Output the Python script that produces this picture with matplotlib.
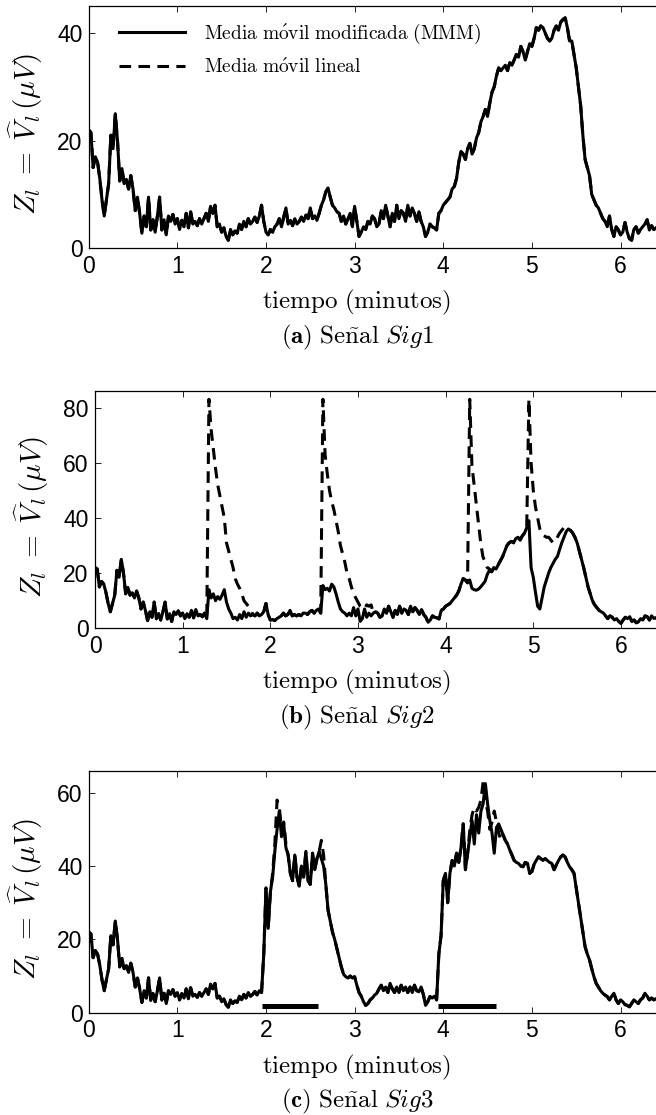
import numpy as np
import matplotlib.pyplot as plt

plt.rcParams['mathtext.fontset'] = 'cm'
plt.rcParams['font.family'] = 'Liberation Sans'

DT = 0.025  # minutos entre muestras

# --- senal base (Sig1), tramos reutilizados en las otras senales ---
base_inicio = [  # 0.000 - 1.175 min
    22, 21.5, 15, 17, 16, 13, 9, 6, 9, 12, 21, 18.5, 25, 20, 12.5, 14.8,
    12, 12.8, 11, 13.5, 11, 7, 9.5, 6.5, 2.8, 6, 4, 9.5, 3.4, 5.3, 3, 6,
    9.5, 3.4, 5.3, 2.5, 6, 5, 6.3, 4.5, 5.5, 3.5, 5.2, 4, 6.5, 3.8, 6.8, 4.5,
]
sig1_tramo_a = [5, 4.2, 5.5, 4.5, 5.5, 6.5, 5, 7.8, 6.5, 8, 4, 4.5, 3, 3.8, 2.2, 1.5]  # 1.2 - 1.575
sig1_tramo_b = [3.5, 2.5, 3.2, 2.8, 4.5, 3.5, 5, 4, 5.5, 4.5, 5, 5.8, 4.8, 6, 8, 5]  # 1.6 - 1.975
sig1_tramo_c = [  # 2.0 - 3.175
    3, 2.5, 3.5, 3, 4, 4.5, 5.5, 4, 5.8, 7.5, 4.5, 5.2, 4.2, 5.5, 4.5, 5,
    5.8, 5, 6.2, 5.5, 7.5, 5.5, 6, 5.2, 6.5, 8, 9, 10.5, 11.2, 9.5, 8, 7.5,
    6.8, 6.5, 5, 6, 4.5, 5.5, 6.5, 4, 7.8, 5, 2.2, 3, 4, 3.5, 5, 4.5,
]
calma_media = [  # 3.2 - 3.975
    6, 5.5, 4, 4.5, 7, 5.5, 8, 6, 4, 6.5, 5, 8, 5.5, 7, 6.5, 5,
    8, 6, 7.5, 6.5, 5, 6.8, 5, 4, 2.2, 3, 4.5, 4, 3.8, 3.4, 6.5, 7,
]
sig1_final = [  # 4.0 - 6.4
    8, 8.5, 9, 9.5, 11, 11.5, 13, 16, 18, 17.5, 16.5, 18.5, 19.5, 17.5, 18.5, 20.5,
    21.5, 23.5, 24.5, 25.8, 24.5, 27, 29, 30, 32, 33.5, 33, 33.5, 34, 33, 34.5, 34,
    35, 36, 35.5, 37.5, 36.5, 35, 36.5, 38, 37.5, 39, 41, 40.5, 41.3, 41, 40, 39,
    38.5, 39, 40.5, 41.3, 40.5, 42, 42.5, 42.8, 41, 38.5, 38.5, 36, 33.5, 30, 26.5, 21,
    16.5, 15, 13.5, 10, 9, 8, 7.5, 6.5, 5.5, 5, 4, 6, 3.5, 2.2, 4, 3.4,
    2.5, 3, 4.8, 3, 1.8, 1.5, 3.5, 4, 2.8, 3.5, 4, 4.5, 5.3, 3.4, 4.2, 3.5, 3.8,
]

# --- Sig2 ---
sig2_tramo = [  # 1.2 - 3.175
    5, 4.2, 5.5, 3.5, 14, 11, 12.5, 10, 11.5, 10.5, 12, 14, 9.5, 7, 5.5, 3.5,
    4, 3, 5, 3.5, 6, 4, 5.5, 4.5, 5, 4.5, 5.5, 4.5, 5, 6, 9, 5,
    3, 3.2, 2.8, 3.5, 4, 4.5, 5.5, 4.5, 5, 6.5, 4.5, 5, 4.5, 5, 4.5, 5.5,
    5.5, 5, 6, 6.5, 5.5, 6.5, 7, 5.5, 15.5, 14, 14.5, 13.5, 16, 15, 12.5, 9.5,
    7, 6, 5.5, 4.5, 5.5, 4.5, 7.5, 4.5, 7, 2.5, 3.5, 7, 4, 5.5, 4.5, 5.5,
]
sig2_final = [  # 4.0 - 6.4
    8, 8.5, 9, 10, 11, 12, 13.5, 16, 18, 17.5, 16.5, 17.5, 14.5, 14, 13.8, 14.2,
    15, 16, 17, 19.5, 21, 20.5, 22, 21.5, 23, 24.5, 26, 28, 30, 31, 31.5, 31,
    32.5, 33, 32, 33.5, 34.5, 36.5, 39, 22, 18.5, 13, 8, 7, 11, 15, 17.5, 20,
    22, 23.5, 25, 26, 28.5, 31, 33, 35, 36, 35.5, 34.5, 33, 31, 28, 25, 22,
    18.5, 15, 12.5, 10, 8.5, 7.5, 6.5, 6, 5.5, 4.5, 3.5, 4.5, 4, 3, 3.5, 2.5,
    1.8, 3, 4, 3.5, 4.2, 2.5, 3, 2, 2.4, 3.5, 3, 4.5, 4.2, 3, 4.5, 3.6, 3.8,
]
# picos de la media movil lineal (inicio en minutos, valores)
sig2_picos_lineal = [
    (1.3, [83, 72, 65, 58, 52, 48, 44, 40, 31, 28, 25, 22, 18, 16, 14.5, 12.5,
           10, 9, 8, 7]),
    (2.6, [83, 63, 56, 50, 46, 43, 39, 35, 30, 27, 24, 20, 18, 15, 12.5, 11,
           9.5, 8, 7.5, 7, 8.5, 8, 8.5]),
    (4.275, [83, 59, 52, 45, 38, 31, 26, 24, 22, 21.5]),
    (4.95, [83, 60, 50, 44, 40, 36, 34, 33.5, 33, 33, 32, 31, 31.5, 33, 34.5,
            35.5, 36.5, 36]),
]

# --- Sig3 ---
sig3_tramo = [  # 1.6 - 6.4
    3.5, 2.5, 3.2, 2.8, 4.5, 3.5, 5, 4, 5.5, 4.5, 5, 5.8, 4.8, 6, 5.5, 16,
    34, 23, 33, 37, 44, 50, 55, 48, 51.5, 45, 43, 38, 36, 43, 37, 34.5,
    40, 37, 44, 36, 35, 43.5, 39, 42, 44, 42, 40, 35, 28, 25, 22, 20,
    17.5, 15, 12.5, 10.5, 9.8, 9.5, 10, 9.5, 9.8, 7.5, 5.5, 4.5, 3, 2, 2.5, 3.5,
    4, 4.8, 5.3, 6.5, 7.5, 6, 7, 5.5, 8, 6.5, 5.5, 7, 5.5, 7.5, 6, 7,
    5.5, 7, 5.5, 7.5, 6, 5.7, 7, 5, 2, 3, 4.4, 4, 4.5, 3.5, 16, 21,
    36, 38, 30, 38, 41.5, 40, 43.5, 41, 45, 51.5, 39, 43.5, 48, 52.5, 46, 54,
    49, 55, 57, 62.5, 57, 52.5, 49, 43.5, 50.5, 51.5, 50, 48.5, 47, 46, 44.4, 43,
    41.5, 41, 40.7, 40, 39.8, 41, 40.7, 38, 38.5, 40.5, 41.6, 42.5, 42, 41.6, 42, 41.5,
    41, 40.7, 39, 40.3, 41.5, 42.5, 43, 42.5, 41, 39.8, 39, 38, 34, 30, 26, 22,
    18, 16, 14.4, 12, 9.8, 8, 7, 6, 5.3, 4.8, 4.4, 3.5, 4.5, 5.3, 3.5, 2.5,
    3.5, 3, 2.2, 2, 1.6, 2.5, 3.5, 3, 2.5, 3.5, 4, 5.3, 4.5, 3.5, 4, 3.5, 3.8,
]
sig3_difs_lineal = [
    (2.075, [38, 46, 58, 56, 50, 52, 46]),
    (2.6, [44, 47, 43]),
    (4.3, [50, 54, 56, 55, 56, 58, 63, 58, 55, 50, 52, 55, 52, 49, 47]),
]
# intervalos marcados con barra negra en Sig3
barras_ini = [1.96, 3.94]
barras_fin = [2.585, 4.6]
barras_nivel = [1.9, 1.9]

mmm1 = np.array(base_inicio + sig1_tramo_a + sig1_tramo_b + sig1_tramo_c + calma_media + sig1_final, float)
mmm2 = np.array(base_inicio + sig2_tramo + calma_media + sig2_final, float)
mmm3 = np.array(base_inicio + sig1_tramo_a + sig3_tramo, float)


def con_difs(mmm, difs):
    lin = mmm.copy()
    for t0, vals in difs:
        i = int(round(t0 / DT))
        lin[i:i + len(vals)] = vals
    return lin


lin1 = mmm1.copy()
lin2 = con_difs(mmm2, sig2_picos_lineal)
lin3 = con_difs(mmm3, sig3_difs_lineal)

W, H = 656, 1115
fig = plt.figure(figsize=(W / 100, H / 100), dpi=100)

# left, top, bottom (px)
cajas = [(88.7, 6, 248.3), (95, 391, 628.3), (88.7, 770.7, 1012.7)]
ylims = [45, 86, 66]
yticks = [[0, 20, 40], [0, 20, 40, 60, 80], [0, 20, 40, 60]]
ylab_x = [26, 32, 26]
captions = [r'$\mathbf{(a)}\ \mathrm{Se\tilde{n}al}\ \mathit{Sig1}$',
            r'$\mathbf{(b)}\ \mathrm{Se\tilde{n}al}\ \mathit{Sig2}$',
            r'$\mathbf{(c)}\ \mathrm{Se\tilde{n}al}\ \mathit{Sig3}$']
series = [(mmm1, lin1), (mmm2, lin2), (mmm3, lin3)]

for k, ((left, top, bottom), (mmm, lin)) in enumerate(zip(cajas, series)):
    ax = fig.add_axes([left / W, 1 - bottom / H, (W - left) / W, (bottom - top) / H])
    t = np.arange(len(mmm)) * DT
    ax.plot(t, mmm, color='k', lw=2.2, label=r'$\mathrm{Media\ m\acute{o}vil\ modificada\ (MMM)}$')
    ax.plot(t, lin, color='k', lw=2.2, dashes=(3.8, 2.4), label=r'$\mathrm{Media\ m\acute{o}vil\ lineal}$')
    if k == 2:
        ax.hlines(barras_nivel, barras_ini, barras_fin, color='k', lw=3.6)
    ax.set_xlim(0, 6.4)
    ax.set_ylim(0, ylims[k])
    ax.set_xticks(range(7))
    ax.set_yticks(yticks[k])
    ax.spines['right'].set_visible(False)
    for s in ('left', 'bottom', 'top'):
        ax.spines[s].set_linewidth(0.9)
    ax.tick_params(direction='in', top=True, length=4, width=0.6, labelsize=16.5, pad=4.5)
    hpx = bottom - top
    wpx = W - left
    ax.set_xlabel(r'$\mathrm{tiempo\ (minutos)}$', fontsize=18)
    ax.xaxis.set_label_coords((356 - left) / wpx, -40 / hpx)
    ax.set_ylabel(r'$Z_l\;=\;\widehat{V}_l\,(\mu V)$', fontsize=21, va='center')
    ax.yaxis.set_label_coords((ylab_x[k] - left) / wpx, 0.47)
    fig.text(357 / W, 1 - (bottom + 89) / H, captions[k], fontsize=18, ha='center', va='center')
    if k == 0:
        ax.legend(loc='upper left', bbox_to_anchor=(30 / wpx, 1 - 16 / hpx),
                  frameon=False, fontsize=14, handlelength=3.4, handletextpad=1.0,
                  labelspacing=0.6, borderpad=0, borderaxespad=0)

fig.savefig('out.png', dpi=100)
